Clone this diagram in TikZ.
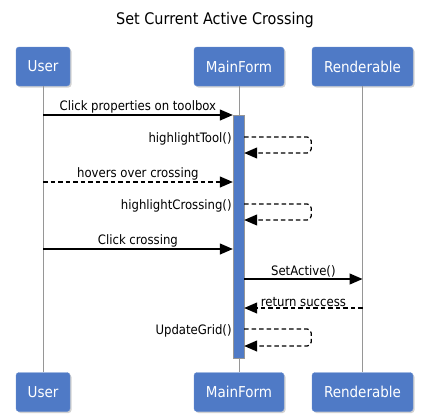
\documentclass[tikz,border=0pt]{standalone}
\usepackage{fontspec}
\setmainfont{DejaVu Sans Condensed}
\usetikzlibrary{positioning,arrows.meta,shadows,calc}
\definecolor{boxblue}{RGB}{79,122,198}
\definecolor{lifegray}{RGB}{150,150,150}
\tikzset{
  actor/.style={draw=boxblue!85!white, fill=boxblue, rounded corners=3pt, text=white,
    font=\fontsize{15}{18}\selectfont, minimum height=39pt, inner xsep=0pt,
    drop shadow={shadow xshift=1.5pt, shadow yshift=-1.5pt, fill=black!35}},
  life/.style={draw=lifegray, line width=1pt},
  actbar/.style={draw=lifegray, fill=boxblue, minimum width=11pt, inner sep=0pt},
  msg/.style={-{Triangle[length=13pt, width=11pt]}, line width=1.2pt},
  retmsg/.style={msg, dash pattern=on 4.5pt off 3pt},
  msglabel/.style={font=\fontsize{13}{15}\selectfont, midway, above=0.3pt, inner sep=0.5pt},
  selflabel/.style={font=\fontsize{13}{15}\selectfont, anchor=east, inner sep=1pt},
}

\begin{document}
\begin{tikzpicture}[x=1pt, y=-1pt]
  \useasboundingbox (0,0) rectangle (433,415);
  \node[font=\fontsize{16}{19}\selectfont] (title) at (215,20) {Set Current Active Crossing};
  % participants, top and bottom
  \node[actor, minimum width=54pt] (user) at (43,66.5) {User};
  \node[actor, minimum width=90pt] (main) at (239,66.5) {MainForm};
  \node[actor, minimum width=101pt] (rend) at (362.5,66.5) {Renderable};
  \node[actor, minimum width=54pt] (userB) at (43,392) {User};
  \node[actor, minimum width=90pt] (mainB) at (239,392) {MainForm};
  \node[actor, minimum width=101pt] (rendB) at (362.5,392) {Renderable};
  \draw[life] (user) -- (userB);
  \draw[life] (main) -- (mainB);
  \draw[life] (rend) -- (rendB);
  \node[actbar, minimum height=243pt] (act) at (238.5,236.5) {};
  % message rows
  \coordinate (m1) at (0,115);
  \coordinate (s1) at (0,137);
  \coordinate (m2) at (0,182);
  \coordinate (s2) at (0,204);
  \coordinate (m3) at (0,249);
  \coordinate (m4) at (0,279);
  \coordinate (m5) at (0,308);
  \coordinate (s3) at (0,329);
  \draw[msg] (user |- m1) -- node[msglabel]{Click properties on toolbox} (act.west |- m1);
  \draw[retmsg, rounded corners=4pt] (act.east |- s1) -- ++(67,0) -- ++(0,16) -- ($(act.east |- s1)+(0,16)$);
  \node[selflabel] (l1) at ([yshift=-2pt]act.west |- s1) {highlightTool()};
  \draw[retmsg] (user |- m2) -- node[msglabel]{hovers over crossing} (act.west |- m2);
  \draw[retmsg, rounded corners=4pt] (act.east |- s2) -- ++(67,0) -- ++(0,16) -- ($(act.east |- s2)+(0,16)$);
  \node[selflabel] (l2) at ([yshift=-2pt]act.west |- s2) {highlightCrossing()};
  \draw[msg] (user |- m3) -- node[msglabel]{Click crossing} (act.west |- m3);
  \draw[msg] (act.east |- m4) -- node[msglabel]{SetActive()} (rend |- m4);
  \draw[retmsg] (rend |- m5) -- node[msglabel]{return success} (act.east |- m5);
  \draw[retmsg, rounded corners=4pt] (act.east |- s3) -- ++(67,0) -- ++(0,17) -- ($(act.east |- s3)+(0,17)$);
  \node[selflabel] (l3) at ([yshift=-2pt]act.west |- s3) {UpdateGrid()};
\end{tikzpicture}
\end{document}
